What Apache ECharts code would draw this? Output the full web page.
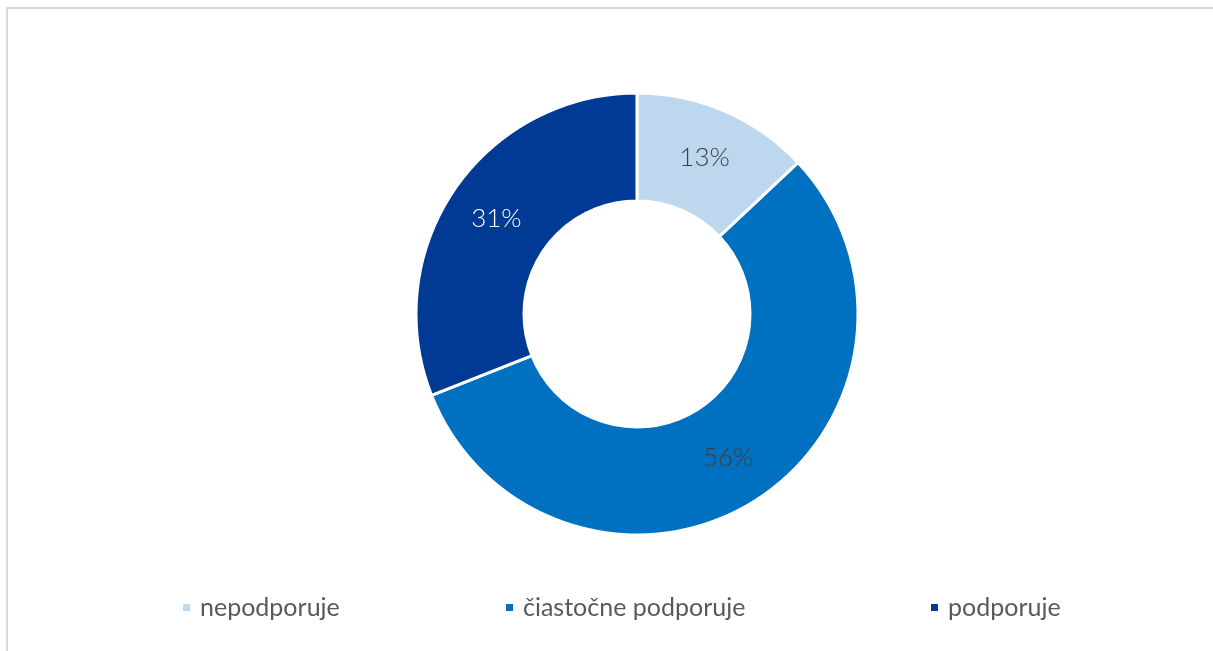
<!DOCTYPE HTML>
<html>
<head>
<meta charset="utf-8">
<title>podpora</title>
<script type="text/javascript" src="https://cdn.jsdelivr.net/npm/echarts@6/dist/echarts.min.js"></script>
<style>
html, body { margin: 0; padding: 0; background: #fff; }
#frame { position: absolute; left: 6px; top: 7px; width: 1207px; height: 644px; border-top: 2px solid #d9d9d9; border-left: 2px solid #d9d9d9; box-sizing: border-box; }
#container { position: absolute; left: 0; top: 0; width: 1213px; height: 651px; }
</style>
</head>
<body>
<div id="frame"></div>
<div id="container"></div>
<script type="text/javascript">
var categories = ['nepodporuje', 'čiastočne podporuje', 'podporuje'];
var values = [13, 56, 31];
var colors = ['#BDD7EE', '#0070C0', '#003A94'];
var labelColors = ['#404040', '#404040', '#ffffff'];
var legendLeft = [176, 499, 924];

var myChart = echarts.init(document.getElementById('container'));

var pieData = [];
for (var i = 0; i < categories.length; i++) {
	pieData.push({
		name: categories[i],
		value: values[i],
		itemStyle: { color: colors[i] },
		label: { color: labelColors[i] }
	});
}

// kazda polozka legendy zvlast, aby sedeli rozostupy
var legends = [];
for (var j = 0; j < categories.length; j++) {
	legends.push({
		data: [categories[j]],
		left: legendLeft[j],
		top: 590,
		icon: 'rect',
		itemWidth: 9,
		itemHeight: 9,
		selectedMode: false,
		textStyle: { fontFamily: 'Lato', fontSize: 25, color: '#595959', padding: [0, 0, 0, 4] }
	});
}

var option = {
	animation: false,
	legend: legends,
	series: [{
		type: 'pie',
		center: [637, 314],
		radius: [113, 221],
		startAngle: 90,
		clockwise: true,
		avoidLabelOverlap: false,
		itemStyle: { borderColor: '#ffffff', borderWidth: 3 },
		label: {
			show: true,
			position: 'inside',
			formatter: '{c}%',
			fontFamily: 'Lato',
			fontSize: 26,
			fontWeight: 300
		},
		labelLine: { show: false },
		emphasis: { disabled: true },
		data: pieData
	}]
};
myChart.setOption(option);
</script>
</body>
</html>
